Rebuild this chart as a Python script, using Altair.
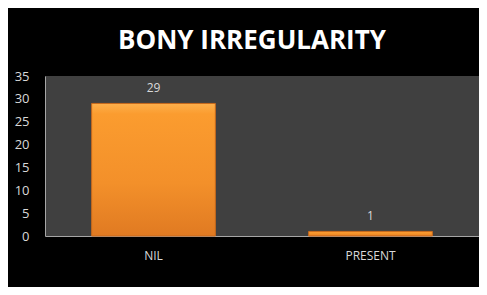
import altair as alt
import pandas as pd

categories = ["NIL", "PRESENT"]
counts = [29, 1]
y_ticks = [0, 5, 10, 15, 20, 25, 30, 35]

df = pd.DataFrame({"category": categories, "count": counts})

gradient = alt.Gradient(
    gradient="linear",
    x1=0, y1=0, x2=0, y2=1,
    stops=[
        alt.GradientStop(color="#FDB04C", offset=0),
        alt.GradientStop(color="#FB9C2F", offset=0.08),
        alt.GradientStop(color="#F3902A", offset=0.6),
        alt.GradientStop(color="#E07A22", offset=1),
    ],
)

x_enc = alt.X(
    "category:N",
    sort=categories,
    scale=alt.Scale(paddingInner=0.43, paddingOuter=0.215),
    axis=alt.Axis(
        title=None, labelAngle=0, ticks=False, labelPadding=14,
        labelColor="#D9D9D9", labelFont="Open Sans", labelFontSize=12,
        domainColor="#A6A6A6", domainWidth=1,
    ),
)
y_enc = alt.Y(
    "count:Q",
    scale=alt.Scale(domain=[0, 35], nice=False),
    axis=alt.Axis(
        title=None, values=y_ticks, ticks=False, grid=False, labelPadding=16,
        labelOverlap=False,
        labelColor="#D9D9D9", labelFont="Open Sans", labelFontSize=13,
        domainColor="#A6A6A6", domainWidth=1,
    ),
)

bars = alt.Chart(df).mark_bar(
    color=gradient, stroke="#C9691B", strokeWidth=1
).encode(x=x_enc, y=y_enc)

labels = alt.Chart(df).mark_text(
    baseline="alphabetic", dy=-11, color="#D9D9D9", font="Open Sans", fontSize=12
).encode(x=x_enc, y=y_enc, text="count:Q")

chart = (
    alt.layer(bars, labels)
    .properties(
        width=434,
        height=160,
        background="#000000",
        autosize=alt.AutoSizeParams(type="none"),
        padding={"left": 37, "top": 68, "right": 0, "bottom": 51},
        title=alt.TitleParams(
            "BONY IRREGULARITY",
            color="#FFFFFF",
            font="Open Sans",
            fontSize=26,
            fontWeight="bold",
            anchor="middle",
            baseline="alphabetic",
            offset=5,
            dy=10,
            dx=-10,
        ),
    )
    .configure_view(fill="#404040", stroke=None)
)

chart.save("out.html", embed_options={"renderer": "svg", "actions": False})
